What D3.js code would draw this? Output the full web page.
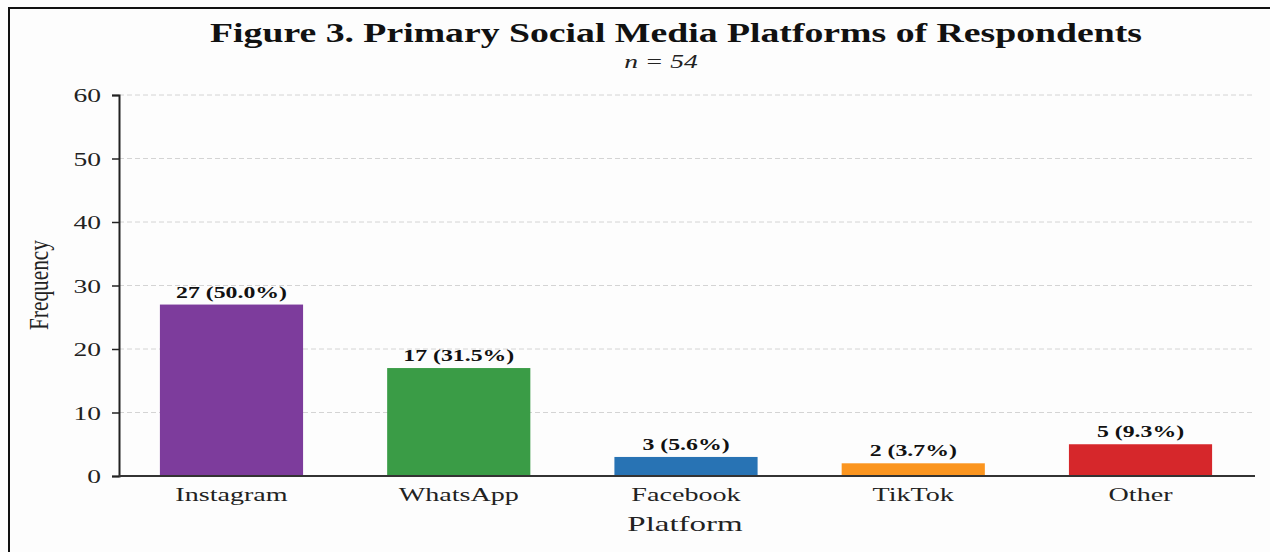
<!DOCTYPE html>
<html>
<head>
<meta charset="utf-8">
<script src="https://cdn.jsdelivr.net/npm/d3@7"></script>
<style>
  body { margin: 0; background: #fdfdfd; }
  #chart { width: 1270px; height: 552px; }
  text { font-family: "Liberation Serif", "Times New Roman", serif; }
</style>
</head>
<body>
<div id="chart"></div>
<script>
//Datos
const platforms = ['Instagram', 'WhatsApp', 'Facebook', 'TikTok', 'Other'];
const counts = [27, 17, 3, 2, 5];
const percents = ['50.0', '31.5', '5.6', '3.7', '9.3'];
const barColors = ['#7d3c9c', '#3a9c46', '#2873b4', '#fb951f', '#d6272b'];
const yTicks = [0, 10, 20, 30, 40, 50, 60];

let W = 1270, H = 552;

//El texto original está estirado en horizontal
function stretch(sel, sx) {
    sel.each(function() {
        let t = d3.select(this);
        let tx = +t.attr('x') || 0, ty = +t.attr('y') || 0;
        t.attr('x', 0).attr('y', 0)
         .attr('transform', 'translate(' + tx + ',' + ty + ') scale(' + sx + ',1)');
    });
}

let svg = d3.select('#chart')
    .append('svg')
      .attr('width', W)
      .attr('height', H);

//Marco
svg.append('line')
    .attr('x1', 8).attr('x2', W).attr('y1', 8).attr('y2', 8)
    .attr('stroke', '#111').attr('stroke-width', 2);
svg.append('line')
    .attr('x1', 9).attr('x2', 9).attr('y1', 8).attr('y2', H)
    .attr('stroke', '#111').attr('stroke-width', 2);

//Escalas
let x = d3.scaleBand()
    .domain(platforms)
    .range([119, 1253])
    .paddingInner(0.37)
    .paddingOuter(0.18);

let y = d3.scaleLinear()
    .domain([0, 60])
    .range([476, 95]);

//Rejilla
svg.append('g')
    .selectAll('line')
    .data(yTicks.filter(d => d > 0))
    .enter()
    .append('line')
    .attr('x1', 119).attr('x2', 1255)
    .attr('y1', d => y(d)).attr('y2', d => y(d))
    .attr('stroke', '#d4d4d4')
    .attr('stroke-width', 1)
    .attr('stroke-dasharray', '5,3');

//Barras
svg.append('g')
    .selectAll('rect')
    .data(counts)
    .enter()
    .append('rect')
    .attr('x', (d, i) => x(platforms[i]))
    .attr('y', d => y(d))
    .attr('width', x.bandwidth())
    .attr('height', d => y(0) - y(d))
    .attr('fill', (d, i) => barColors[i]);

//Etiquetas de valor
let valLabels = svg.append('g')
    .selectAll('text')
    .data(counts)
    .enter()
    .append('text')
    .attr('x', (d, i) => x(platforms[i]) + x.bandwidth() / 2)
    .attr('y', d => y(d) - 7)
    .attr('text-anchor', 'middle')
    .attr('font-size', 17)
    .attr('font-weight', 'bold')
    .attr('fill', '#111')
    .text((d, i) => d + ' (' + percents[i] + '%)');
stretch(valLabels, 1.4);

//Eje Y
let yAxis = svg.append('g')
    .attr('transform', 'translate(119,0)')
    .call(d3.axisLeft(y).tickValues(yTicks).tickSize(7).tickPadding(11));
yAxis.select('.domain').attr('stroke', '#222').attr('stroke-width', 2);
yAxis.selectAll('.tick line').attr('stroke', '#222').attr('stroke-width', 1.5);
yAxis.selectAll('.tick text')
    .attr('font-family', '"Liberation Serif", serif')
    .attr('font-size', 19)
    .attr('fill', '#222')
    .attr('dy', '0.35em');
stretch(yAxis.selectAll('.tick text'), 1.45);

//Eje X
let xAxis = svg.append('g')
    .attr('transform', 'translate(0,476)')
    .call(d3.axisBottom(x).tickSize(0).tickPadding(12));
xAxis.select('.domain').attr('d', 'M119,0H1255').attr('stroke', '#333').attr('stroke-width', 2);
xAxis.selectAll('.tick text')
    .attr('font-family', '"Liberation Serif", serif')
    .attr('font-size', 19)
    .attr('fill', '#222')
    .attr('y', 12)
    .attr('dy', '0.71em');
stretch(xAxis.selectAll('.tick text'), 1.48);

//Títulos
svg.append('text')
    .attr('x', 676).attr('y', 42)
    .attr('text-anchor', 'middle')
    .attr('font-size', 28)
    .attr('font-weight', 'bold')
    .attr('fill', '#111')
    .attr('textLength', 932)
    .attr('lengthAdjust', 'spacingAndGlyphs')
    .text('Figure 3. Primary Social Media Platforms of Respondents');

let sub = svg.append('text')
    .attr('x', 661).attr('y', 68)
    .attr('text-anchor', 'middle')
    .attr('font-size', 19)
    .attr('font-style', 'italic')
    .attr('fill', '#222')
    .text('n = 54');
stretch(sub, 1.45);

let xTitle = svg.append('text')
    .attr('x', 685).attr('y', 531)
    .attr('text-anchor', 'middle')
    .attr('font-size', 22)
    .attr('fill', '#222')
    .text('Platform');
stretch(xTitle, 1.5);

svg.append('text')
    .attr('transform', 'translate(48,285) rotate(-90)')
    .attr('text-anchor', 'middle')
    .attr('font-size', 27)
    .attr('fill', '#222')
    .attr('textLength', 90)
    .attr('lengthAdjust', 'spacingAndGlyphs')
    .text('Frequency');
</script>
</body>
</html>
